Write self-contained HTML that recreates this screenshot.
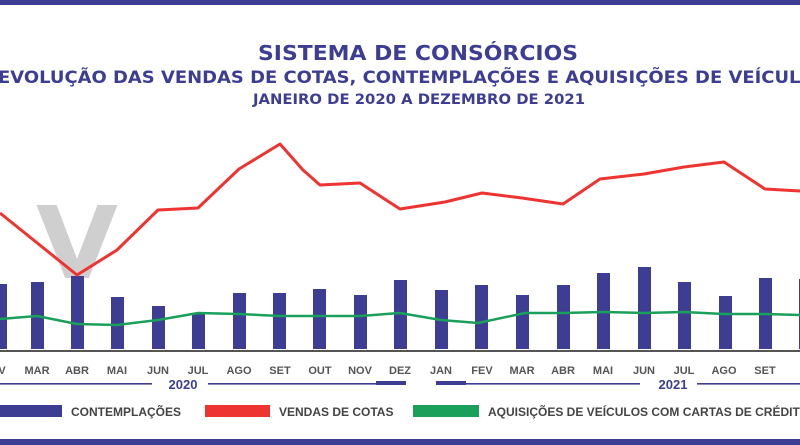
<!DOCTYPE html>
<html><head><meta charset="utf-8"><style>
html,body{margin:0;padding:0;background:#fff;width:800px;height:445px;overflow:hidden}
svg{display:block}
text{font-family:"Liberation Sans","DejaVu Sans",sans-serif;font-weight:bold}
.dj{font-family:"DejaVu Sans",sans-serif}
</style></head><body>
<svg width="800" height="445" viewBox="0 0 800 445" xmlns="http://www.w3.org/2000/svg">
<rect x="0" y="0" width="800" height="5" fill="#3d3d94"/>
<rect x="0" y="439" width="800" height="6" fill="#3d3d94"/>
<text class="dj" x="258" y="60" font-size="20" fill="#3d3d94" textLength="320" lengthAdjust="spacingAndGlyphs">SISTEMA DE CONSÓRCIOS</text>
<text class="dj" x="-2" y="83" font-size="17" fill="#3d3d94" textLength="830" lengthAdjust="spacingAndGlyphs">EVOLUÇÃO DAS VENDAS DE COTAS, CONTEMPLAÇÕES E AQUISIÇÕES DE VEÍCULOS</text>
<text class="dj" x="253" y="104" font-size="14" fill="#3d3d94" textLength="332" lengthAdjust="spacingAndGlyphs">JANEIRO DE 2020 A DEZEMBRO DE 2021</text>
<text class="dj" x="36" y="278" font-size="100" fill="#cfcfcf" textLength="82" lengthAdjust="spacingAndGlyphs">V</text>
<g fill="#3d3d94">
<rect x="-6" y="284" width="13" height="65"/>
<rect x="31" y="282" width="13" height="67"/>
<rect x="71" y="276" width="13" height="73"/>
<rect x="111" y="297" width="13" height="52"/>
<rect x="152" y="306" width="13" height="43"/>
<rect x="192" y="313" width="13" height="36"/>
<rect x="233" y="293" width="13" height="56"/>
<rect x="273" y="293" width="13" height="56"/>
<rect x="313" y="289" width="13" height="60"/>
<rect x="354" y="295" width="13" height="54"/>
<rect x="394" y="280" width="13" height="69"/>
<rect x="435" y="290" width="13" height="59"/>
<rect x="475" y="285" width="13" height="64"/>
<rect x="516" y="295" width="13" height="54"/>
<rect x="557" y="285" width="13" height="64"/>
<rect x="597" y="273" width="13" height="76"/>
<rect x="638" y="267" width="13" height="82"/>
<rect x="678" y="282" width="13" height="67"/>
<rect x="719" y="296" width="13" height="53"/>
<rect x="759" y="278" width="13" height="71"/>
<rect x="799" y="279" width="13" height="70"/>
</g>
<polyline fill="none" stroke="#ee3431" stroke-width="3" stroke-linejoin="round" points="0,213 77,275 117,250 158,210 198,208 239,169 280,144 303,170 320,185 360,183 400,209 445,202 482,193 522,198 563,204 600,179 644,174 684,167 724,162 765,189 800,191"/>
<polyline fill="none" stroke="#1aa05a" stroke-width="2.5" stroke-linejoin="round" points="0,319 37,316 77,324 117,325 158,320 198,313 239,314 280,316 320,316 360,316 400,313 441,320 478,323 525,313 563,313 603,312 644,313 684,312 724,314 765,314 800,315"/>
<rect x="0" y="350" width="800" height="2" fill="#555"/>
<g font-size="11" fill="#555" text-anchor="middle">
<text x="2" y="374">V</text><text x="37" y="374">MAR</text><text x="77" y="374">ABR</text><text x="117" y="374">MAI</text><text x="158" y="374">JUN</text><text x="198" y="374">JUL</text><text x="239" y="374">AGO</text><text x="280" y="374">SET</text><text x="320" y="374">OUT</text><text x="360" y="374">NOV</text><text x="400" y="374">DEZ</text><text x="441" y="374">JAN</text><text x="482" y="374">FEV</text><text x="522" y="374">MAR</text><text x="563" y="374">ABR</text><text x="603" y="374">MAI</text><text x="644" y="374">JUN</text><text x="684" y="374">JUL</text><text x="724" y="374">AGO</text><text x="765" y="374">SET</text><text x="805" y="374">O</text>
</g>
<g fill="#3d3d94">
<rect x="0" y="383" width="152" height="1.6"/>
<rect x="208" y="383" width="168" height="1.6"/>
<rect x="376" y="381" width="30" height="4"/>
<rect x="436" y="381" width="30" height="4"/>
<rect x="466" y="383" width="174" height="1.6"/>
<rect x="697" y="383" width="103" height="1.6"/>
</g>
<text x="183" y="389" font-size="13" fill="#3d3d94" text-anchor="middle">2020</text>
<text x="673" y="389" font-size="13" fill="#3d3d94" text-anchor="middle">2021</text>
<rect x="0" y="405" width="62" height="12" fill="#3d3d94"/>
<text x="71" y="416" font-size="12" fill="#444">CONTEMPLAÇÕES</text>
<rect x="205" y="405" width="65" height="12" fill="#ee3431"/>
<text x="279" y="416" font-size="12" fill="#444">VENDAS DE COTAS</text>
<rect x="413" y="405" width="66" height="12" fill="#1aa05a"/>
<text x="488" y="416" font-size="12" fill="#444">AQUISIÇÕES DE VEÍCULOS COM CARTAS DE CRÉDITO (</text>
</svg>
</body></html>
